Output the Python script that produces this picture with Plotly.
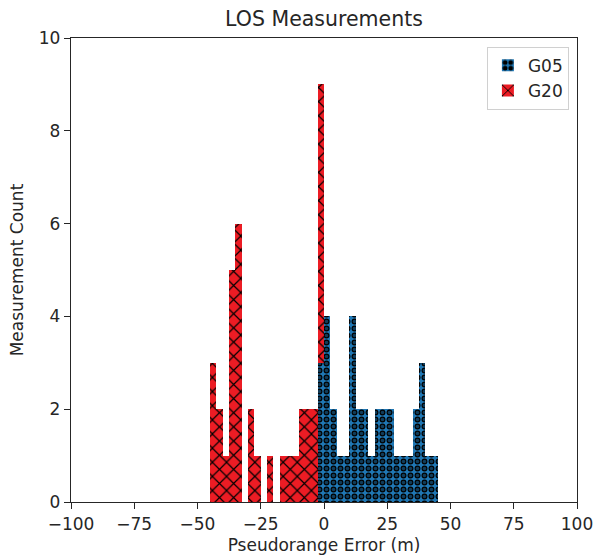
import plotly.graph_objects as go

# Histogram bins (2.5 m wide), left edges
bin_width = 2.5
bin_left = [-45 + 2.5 * i for i in range(36)]  # -45 ... 42.5

# Counts per bin (stacked: G05 bottom, G20 on top)
g05_counts = [0] * 17 + [3, 4, 2, 1, 1, 4, 2, 2, 1, 2, 2, 2, 1, 1, 1, 2, 3, 1, 1]
g20_counts = [3, 2, 1, 5, 6, 0, 2, 1, 0, 1, 0, 1, 1, 1, 2, 2, 2, 6] + [0] * 18

x_ticks = [-100, -75, -50, -25, 0, 25, 50, 75, 100]
y_ticks = [0, 2, 4, 6, 8, 10]

centers = [e + bin_width / 2 for e in bin_left]

BLUE = "#1f77b4"
RED = "#ec1c24"

fig = go.Figure()
# G05: blue with black ring hatch (black dots + smaller blue dots on top)
fig.add_trace(go.Bar(
    x=centers, y=g05_counts, width=bin_width, name="G05", legendgroup="g05",
    marker=dict(color=BLUE, line=dict(width=0),
                pattern=dict(shape=".", fgcolor="black", bgcolor=BLUE,
                             size=7, solidity=0.55, fillmode="replace")),
))
fig.add_trace(go.Bar(
    x=centers, y=g05_counts, width=bin_width, name="G05", legendgroup="g05",
    showlegend=False, hoverinfo="skip",
    marker=dict(color="rgba(0,0,0,0)", line=dict(width=0),
                pattern=dict(shape=".", fgcolor=BLUE, bgcolor="rgba(0,0,0,0)",
                             size=7, solidity=0.2, fillmode="overlay")),
))
# G20 stacked on top of G05
fig.add_trace(go.Bar(
    x=centers, y=g20_counts, base=g05_counts, width=bin_width, name="G20",
    marker=dict(color=RED, line=dict(width=0),
                pattern=dict(shape="x", fgcolor="black", bgcolor=RED,
                             size=10, solidity=0.22, fillmode="replace")),
))

font_family = "DejaVu Sans"
W, H = 595, 558
L, R, T, B = 71, 18, 38, 56
fig.update_layout(
    width=W, height=H,
    margin=dict(l=L, r=R, t=T, b=B, autoexpand=False),
    paper_bgcolor="white", plot_bgcolor="white",
    barmode="overlay", bargap=0,
    font=dict(family=font_family, size=17, color="#262626"),
    title=dict(text="LOS Measurements", x=(L + (W - R)) / 2 / W, xanchor="center",
               y=1 - 19 / H, yanchor="middle", font=dict(size=20.5, color="#262626")),
    legend=dict(x=0.984, y=0.981, xanchor="right", yanchor="top",
                bordercolor="#d0d0d0", borderwidth=1, bgcolor="rgba(255,255,255,0.8)",
                traceorder="normal", font=dict(size=17), tracegroupgap=0),
    showlegend=True,
)
fig.update_xaxes(
    range=[-100, 100], tickvals=x_ticks, ticks="outside", ticklen=6, tickwidth=1.3,
    tickcolor="#262626", showline=True, linecolor="#262626", linewidth=1.3, mirror=True,
    showgrid=False, zeroline=False, automargin=False,
    title=dict(text="Pseudorange Error (m)", standoff=6, font=dict(size=17)),
)
fig.update_yaxes(
    range=[0, 10], tickvals=y_ticks, ticks="outside", ticklen=6, tickwidth=1.3,
    tickcolor="#262626", showline=True, linecolor="#262626", linewidth=1.3, mirror=True,
    showgrid=False, zeroline=False, automargin=False,
    title=dict(text="Measurement Count", standoff=10, font=dict(size=17)),
)

fig.write_html(
    "out.html",
    config={"displayModeBar": False},
    post_script="document.documentElement.style.margin='0';document.body.style.margin='0';"
                "document.body.style.overflow='hidden';",
)
